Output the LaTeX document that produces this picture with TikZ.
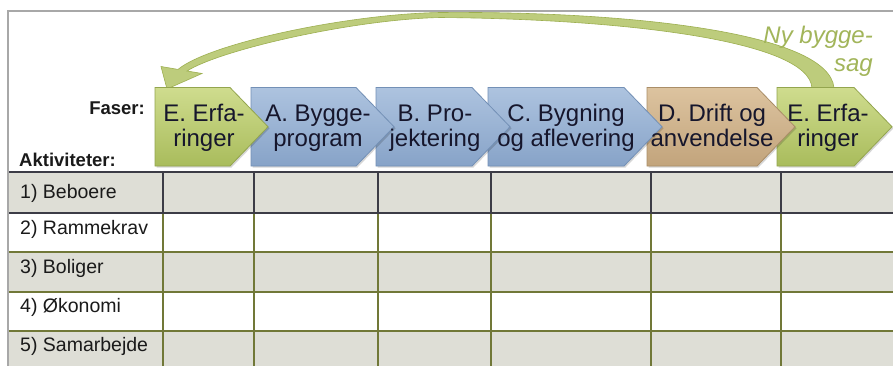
\documentclass[tikz,border=0pt]{standalone}
\usepackage{fontspec}
\setmainfont{Liberation Sans}
\definecolor{grnT}{HTML}{CFDC8E}
\definecolor{grnB}{HTML}{A9BC5C}
\definecolor{grnE}{HTML}{93A54E}
\definecolor{bluT}{HTML}{ADC3DF}
\definecolor{bluB}{HTML}{87A3C8}
\definecolor{bluE}{HTML}{7390B6}
\definecolor{tanT}{HTML}{DCC39F}
\definecolor{tanB}{HTML}{C2A47C}
\definecolor{tanE}{HTML}{AA8E68}
\definecolor{rowgray}{HTML}{DEDED6}
\definecolor{linedark}{HTML}{3C3C46}
\definecolor{lineolive}{HTML}{717838}
\definecolor{framegray}{HTML}{A8A8A8}
\definecolor{phtext}{HTML}{16162C}
\definecolor{celltxt}{HTML}{1A1A1A}
\definecolor{nytext}{HTML}{A2B55A}
\definecolor{arrfill}{HTML}{B6C76E}
\definecolor{arredge}{HTML}{9DAF50}
\newcommand\mychev[5]{%
  \fill[black,opacity=.16] ({#1+1.5},89.5) -- ({#2-38+1.5},89.5) -- ({#2+1.5},128.25) -- ({#2-38+1.5},167.5) -- ({#1+1.5},167.5) -- cycle;
  \path[top color=#3,bottom color=#4,draw=#5,line width=.8pt]
    (#1,87.5) -- ({#2-38},87.5) -- (#2,126.75) -- ({#2-38},166) -- (#1,166) -- cycle;}
\begin{document}
\begin{tikzpicture}[x=1pt,y=-1pt,
  phasetext/.style={align=center,text=phtext,font=\fontsize{24}{25}\selectfont,inner sep=0pt},
  celltext/.style={anchor=base west,text=celltxt,font=\fontsize{19.5}{22}\selectfont,inner sep=0pt},
  headtext/.style={text=celltxt,font=\bfseries\fontsize{18.5}{22}\selectfont,inner sep=0pt},
  tline/.style={line width=1.4pt}]
\useasboundingbox (0,0) rectangle (893,365);
\clip (0,0) rectangle (893,365);
\fill[white] (0,0) rectangle (893,365);

% table
\fill[rowgray] (8,172) rectangle (895,213);
\fill[rowgray] (8,252) rectangle (895,292);
\fill[rowgray] (8,331) rectangle (895,372);
\foreach \y in {252,292,331} \draw[tline,lineolive] (8,\y) -- (895,\y);
\foreach \x in {163,254,378,491,651,781} {
  \draw[tline,lineolive] (\x,213) -- (\x,372);
  \draw[tline,linedark] (\x,172) -- (\x,213);
}
\draw[tline,linedark] (8,172) -- (895,172);
\draw[tline,linedark] (8,213) -- (895,213);

% frame
\draw[framegray,line width=2.5pt] (8,372) -- (8,11) -- (895,11);

% row labels
\node[celltext] (r1) at (20,198.5) {1) Beboere};
\node[celltext] (r2) at (20,234) {2) Rammekrav};
\node[celltext] (r3) at (20,273) {3) Boliger};
\node[celltext] (r4) at (20,312.5) {4) Økonomi};
\node[celltext] (r5) at (20,351.5) {5) Samarbejde};

% headers
\node[headtext,anchor=base east] (faser) at (145,114) {Faser:};
\node[headtext,anchor=base west] (akt) at (19,166) {Aktiviteter:};

% curved return arrow
\path[fill=arrfill,fill opacity=.9,draw=arredge,line width=.6pt]
  (834,88) .. controls (829,31) and (620,11) .. (440,12.5)
  .. controls (349,14) and (210,43) .. (178,69.4)
  -- (161,66.5) -- (167,89) -- (202,73.5) -- (187,71)
  .. controls (220,50) and (352,19.5) .. (440,17.5)
  .. controls (620,19) and (809,40) .. (812,88) -- cycle;
\node[text=nytext,font=\itshape\fontsize{24}{28}\selectfont,anchor=base east,inner sep=0pt] (ny) at (873,43) {Ny bygge-};
\node[text=nytext,font=\itshape\fontsize{24}{28}\selectfont,anchor=base east,inner sep=0pt] (sag) at (873,71) {sag};

% chevrons (back to front)
\mychev{777}{892}{grnT}{grnB}{grnE}
\mychev{647}{795}{tanT}{tanB}{tanE}
\mychev{488}{662}{bluT}{bluB}{bluE}
\mychev{376}{510}{bluT}{bluB}{bluE}
\mychev{251}{394}{bluT}{bluB}{bluE}
\mychev{155}{268}{grnT}{grnB}{grnE}

\node[phasetext] (e1) at (204,128.5) {\strut E. Erfa-\\\strut ringer};
\node[phasetext] (pa) at (318,128.5) {\strut A. Bygge-\\\strut program};
\node[phasetext] (pb) at (435,128.5) {\strut B. Pro-\\\strut jektering};
\node[phasetext] (pc) at (566,128.5) {\strut C. Bygning\\\strut og aflevering};
\node[phasetext] (pd) at (712,128.5) {\strut D. Drift og\\\strut anvendelse};
\node[phasetext] (e2) at (828,128.5) {\strut E. Erfa-\\\strut ringer};
\end{tikzpicture}
\end{document}
